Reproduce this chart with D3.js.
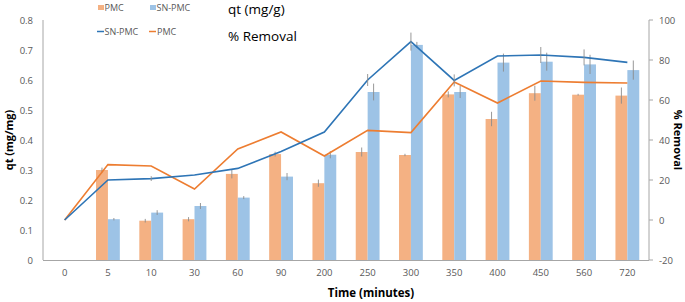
<!DOCTYPE html>
<html><head><meta charset="utf-8">
<script src="https://cdn.jsdelivr.net/npm/d3@7"></script>
<style>body{margin:0;background:#fff}svg{display:block}text{font-family:"Open Sans",sans-serif}</style>
</head><body><svg id="c" width="685" height="302"></svg>
<script>
const categories = ["0","5","10","30","60","90","200","250","300","350","400","450","560","720"];
const pmcQt   = [0, 0.300, 0.131, 0.136, 0.287, 0.353, 0.256, 0.360, 0.350, 0.552, 0.470, 0.556, 0.551, 0.548];
const snQt    = [0, 0.136, 0.158, 0.180, 0.208, 0.278, 0.351, 0.560, 0.717, 0.560, 0.658, 0.661, 0.652, 0.633];
const pmcQtErr= [0, 0.008, 0.006, 0.007, 0.015, 0.008, 0.012, 0.015, 0.004, 0.010, 0.024, 0.025, 0.003, 0.027];
const snQtErr = [0, 0.004, 0.008, 0.010, 0.005, 0.012, 0.012, 0.028, 0.010, 0.020, 0.030, 0.030, 0.032, 0.032];
const snRemoval  = [0, 20.0, 20.7, 22.5, 25.8, 34.2, 44.0, 70.0, 89.2, 69.8, 82.0, 82.5, 81.3, 78.8];
const pmcRemoval = [0, 27.7, 27.0, 15.5, 35.5, 44.0, 32.0, 44.8, 43.7, 69.0, 58.5, 69.5, 68.8, 68.5];
const snRemovalErr = [0, 0, 1.2, 0, 0, 0, 0, 3, 4.5, 3, 0, 4, 4, 0];
const leftTicks = [0, 0.1, 0.2, 0.3, 0.4, 0.5, 0.6, 0.7, 0.8];
const rightTicks = [-20, 0, 20, 40, 60, 80, 100];

const svg = d3.select("#c");
const L = 43, R = 649, T = 20, B = 260;
const x = d3.scaleBand().domain(categories).range([L, R]);
const yL = d3.scaleLinear().domain([0, 0.8]).range([B, T]);
const yR = d3.scaleLinear().domain([-20, 100]).range([B, T]);
const bw = x.bandwidth() * 0.275;
const cx = c => x(c) + x.bandwidth() / 2;
const cPMCbar = "#F4B183", cSNbar = "#9DC3E6", cSNline = "#2E75B6", cPMCline = "#ED7D31";
const axisCol = "#A6A6A6", txtCol = "#595959", errCol = "#8c8c8c";

// bars
const g = svg.append("g");
g.selectAll(".pb").data(categories).join("rect")
  .attr("x", c => cx(c) - bw).attr("width", bw)
  .attr("y", (c, i) => yL(pmcQt[i])).attr("height", (c, i) => B - yL(pmcQt[i]))
  .attr("fill", cPMCbar);
g.selectAll(".sb").data(categories).join("rect")
  .attr("x", c => cx(c)).attr("width", bw)
  .attr("y", (c, i) => yL(snQt[i])).attr("height", (c, i) => B - yL(snQt[i]))
  .attr("fill", cSNbar);
// bar error bars
categories.forEach((c, i) => {
  if (pmcQtErr[i] > 0) g.append("line").attr("x1", cx(c) - bw/2).attr("x2", cx(c) - bw/2)
    .attr("y1", yL(pmcQt[i] - pmcQtErr[i])).attr("y2", yL(pmcQt[i] + pmcQtErr[i]))
    .attr("stroke", errCol).attr("stroke-width", 0.9);
  if (snQtErr[i] > 0) g.append("line").attr("x1", cx(c) + bw/2).attr("x2", cx(c) + bw/2)
    .attr("y1", yL(snQt[i] - snQtErr[i])).attr("y2", yL(snQt[i] + snQtErr[i]))
    .attr("stroke", errCol).attr("stroke-width", 0.9);
});

// axes
svg.append("line").attr("x1", L).attr("x2", L).attr("y1", T).attr("y2", B).attr("stroke", axisCol);
svg.append("line").attr("x1", R).attr("x2", R).attr("y1", T).attr("y2", B).attr("stroke", axisCol);
svg.append("line").attr("x1", L).attr("x2", R).attr("y1", B + 0.5).attr("y2", B + 0.5).attr("stroke", axisCol);
svg.selectAll(".rt").data(rightTicks).join("line")
  .attr("x1", R).attr("x2", R + 4).attr("y1", d => yR(d)).attr("y2", d => yR(d)).attr("stroke", axisCol);

svg.selectAll(".lt").data(leftTicks).join("text")
  .attr("x", 33).attr("y", d => yL(d) + 3.5).attr("text-anchor", "end")
  .attr("font-size", 9.5).attr("fill", txtCol).text(d => d === 0 ? "0" : d3.format(".1f")(d));
svg.selectAll(".rtl").data(rightTicks).join("text")
  .attr("x", 659).attr("y", d => yR(d) + 3.5).attr("text-anchor", "start")
  .attr("font-size", 9.5).attr("fill", txtCol).text(d => d);
svg.selectAll(".xt").data(categories).join("text")
  .attr("x", c => cx(c)).attr("y", 276).attr("text-anchor", "middle")
  .attr("font-size", 9.5).attr("fill", txtCol).text(c => c);

// lines
const lineGen = arr => d3.line().x((d, i) => cx(categories[i])).y(d => yR(d))(arr);
svg.append("path").attr("d", lineGen(pmcRemoval)).attr("fill", "none").attr("stroke", cPMCline).attr("stroke-width", 1.6);
svg.append("path").attr("d", lineGen(snRemoval)).attr("fill", "none").attr("stroke", cSNline).attr("stroke-width", 1.6);
categories.forEach((c, i) => {
  if (snRemovalErr[i] > 0) svg.append("line").attr("x1", cx(c)).attr("x2", cx(c))
    .attr("y1", yR(snRemoval[i] - snRemovalErr[i])).attr("y2", yR(snRemoval[i] + snRemovalErr[i]))
    .attr("stroke", errCol).attr("stroke-width", 0.9);
});

// axis titles
svg.append("text").attr("transform", "translate(13,140) rotate(-90)").attr("text-anchor", "middle")
  .attr("font-size", 11).attr("font-weight", "bold").attr("fill", "#000").text("qt (mg/mg)");
svg.append("text").attr("transform", "translate(674,140) rotate(90)").attr("text-anchor", "middle")
  .attr("font-size", 11).attr("font-weight", "bold").attr("fill", "#000").text("% Removal");
svg.append("text").attr("x", 371).attr("y", 297).attr("text-anchor", "middle")
  .attr("font-size", 11.5).attr("font-weight", "bold").attr("fill", "#000").text("Time (minutes)");

// legend
const lg = svg.append("g").attr("font-size", 9).attr("fill", txtCol);
lg.append("rect").attr("x", 98).attr("y", 5).attr("width", 6).attr("height", 5).attr("fill", cPMCbar);
lg.append("text").attr("x", 104.5).attr("y", 11).text("PMC");
lg.append("rect").attr("x", 150).attr("y", 5).attr("width", 6).attr("height", 5).attr("fill", cSNbar);
lg.append("text").attr("x", 156.5).attr("y", 11).text("SN-PMC");
lg.append("line").attr("x1", 97).attr("x2", 104).attr("y1", 31.5).attr("y2", 31.5).attr("stroke", cSNline).attr("stroke-width", 1.5);
lg.append("text").attr("x", 104.5).attr("y", 35).text("SN-PMC");
lg.append("line").attr("x1", 149).attr("x2", 156).attr("y1", 31.5).attr("y2", 31.5).attr("stroke", cPMCline).attr("stroke-width", 1.5);
lg.append("text").attr("x", 157).attr("y", 35).text("PMC");
svg.append("text").attr("x", 228).attr("y", 14).attr("font-size", 13.5).attr("fill", "#000").text("qt (mg/g)");
svg.append("text").attr("x", 228).attr("y", 41).attr("font-size", 13.5).attr("fill", "#000").text("% Removal");
</script></body></html>
